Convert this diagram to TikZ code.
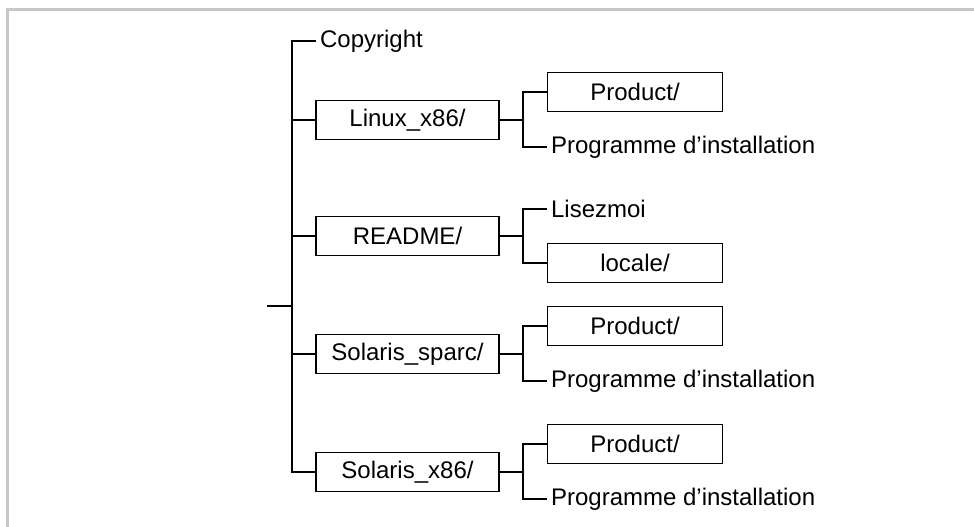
\documentclass[tikz,border=0pt]{standalone}
\usepackage{fontspec}
\setmainfont{Liberation Sans}
\begin{document}
\begin{tikzpicture}[x=1pt,y=-1pt,line width=1.2pt,
  font=\fontsize{24}{28}\selectfont]
  \tikzstyle{dirbox}=[draw, minimum width=183pt, minimum height=39pt, inner sep=0pt]
  \tikzstyle{subbox}=[draw, minimum width=175pt, minimum height=39pt, inner sep=0pt]
  \tikzstyle{leaf}=[anchor=west, inner sep=3.5pt]
  \tikzstyle{frame}=[draw=black!22, line width=3pt]
  \useasboundingbox (0,0) rectangle (974,527);
  \draw[frame] (7.5,527) -- (7.5,9.5) -- (974,9.5);
  % trunk
  \coordinate (trunk-a) at (292,41);
  \coordinate (trunk-b) at (292,472);
  \coordinate (root) at (267,306);
  \node[leaf] (cpy) at (316,41) {Copyright};
  \foreach \n/\t/\y in
    {linux/{Linux\_x86/}/120, readme/{README/}/236,
     sparc/{Solaris\_sparc/}/354, x86/{Solaris\_x86/}/472} {
    \node[dirbox] (\n) at (407.5,\y) {\t};
    \coordinate (\n-j) at (523,\y);
    \draw (\n.east) -- (\n-j);
  }
  \draw (cpy.west) -- (trunk-a) -- (trunk-b) -- (x86.west);
  \foreach \n in {linux,readme,sparc}
    \draw (\n.west) -- (\n.west -| trunk-a);
  \draw (root) -- (root -| trunk-a);
  % second level
  \foreach \n/\y in {linux/120, sparc/354, x86/472} {
    \node[subbox] (\n-a) at (635,\y-28) {Product/};
    \node[leaf] (\n-b) at (547,\y+27) {Programme d’installation};
  }
  \node[leaf] (readme-a) at (547,209) {Lisezmoi};
  \node[subbox] (readme-b) at (635,263) {locale/};
  \foreach \n in {linux,readme,sparc,x86}
    \draw (\n-a.west) -| (\n-j) |- (\n-b.west);
\end{tikzpicture}
\end{document}
